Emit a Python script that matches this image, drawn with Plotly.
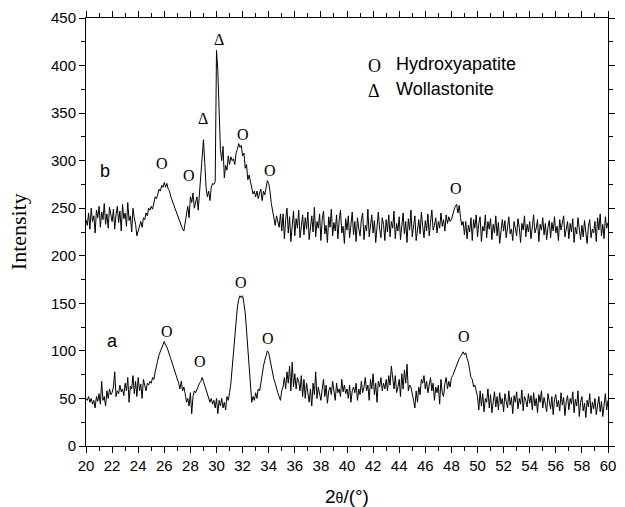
import plotly.graph_objects as go

# 2-theta grid (degrees), 0.1 deg step from 20 to 60
two_theta = [round(20 + i * 0.1, 1) for i in range(401)]

# Curve b (upper pattern)
intensity_b = [
    238, 232, 245, 228, 250, 236, 242, 224, 248, 240,
    252, 230, 246, 238, 255, 233, 244, 229, 251, 241,
    236, 249, 228, 243, 252, 235, 247, 226, 254, 239,
    245, 231, 256, 237, 242, 225, 250, 240, 233, 221,
    226, 232, 236, 230, 240, 238, 245, 242, 250, 248,
    252, 249, 258, 262, 260, 266, 270, 268, 274, 272,
    277, 272, 276, 270, 268, 262, 258, 255, 250, 246,
    242, 238, 236, 232, 228, 226, 235, 245, 252, 240,
    262, 256, 266, 250, 258, 262, 248, 268, 285, 300,
    322, 298, 272, 262, 268, 258, 272, 276, 275, 278,
    416, 395, 358, 312, 300, 315, 282, 295, 290, 305,
    296, 304, 300, 302, 296, 308, 312, 318, 314, 316,
    305, 308, 292, 296, 280, 285, 278, 270, 265, 268,
    262, 268, 260, 266, 270, 258, 268, 264, 270, 279,
    276, 268, 255, 248, 238, 232, 242, 236, 230, 244,
    226, 244, 218, 238, 250, 224, 241, 215, 236, 247,
    221, 239, 229, 248, 219, 235, 243, 222, 240, 228,
    246, 217, 233, 242, 225, 251, 220, 236, 229, 244,
    216, 238, 247, 223, 232, 214, 241, 230, 249, 221,
    235, 226, 243, 218, 237, 248, 224, 231, 213, 239,
    227, 242, 219, 233, 246, 222, 236, 215, 240, 229,
    221, 238, 245, 217, 232, 226, 249, 220, 234, 243,
    224, 237, 214, 231, 246, 228, 219, 240, 233, 216,
    238, 225, 243, 220, 236, 229, 247, 218, 234, 226,
    241, 217, 230, 245, 223, 236, 214, 239, 227, 248,
    220, 233, 242, 216, 229, 238, 223, 246, 231, 219,
    237, 226, 244, 221, 235, 248, 227, 232, 240, 224,
    236, 229, 245, 231, 238, 226, 243, 234, 241, 236,
    238, 244, 248, 252, 254, 245, 253, 240, 232, 236,
    222, 236, 218, 232, 225, 240, 216, 238, 229, 243,
    220, 234, 241, 215, 231, 226, 243, 219, 236, 228,
    239, 217, 233, 224, 242, 221, 235, 213, 230, 238,
    226, 237, 219, 232, 241, 223, 228, 216, 236, 229,
    221, 239, 230, 214, 234, 227, 242, 220, 233, 225,
    236, 218, 231, 243, 224, 229, 238, 215, 233, 227,
    240, 222, 234, 217, 230, 237, 219, 235, 226, 241,
    224, 231, 216, 238, 227, 233, 242, 220, 229, 236,
    218, 234, 225, 239, 214, 230, 223, 240, 228, 217,
    232, 220, 237, 226, 213, 231, 238, 219, 228, 224,
    236, 215, 240, 227, 244, 221, 233, 218, 241, 229,
    235,
]

# Curve a (lower pattern)
intensity_a = [
    50, 48, 52, 46, 50, 44, 48, 40, 52, 47,
    55, 44, 68, 48, 52, 42, 58, 50, 60, 54,
    56, 62, 78, 52, 58, 55, 64, 57, 60, 53,
    66, 58, 72, 46, 63, 60, 74, 55, 68, 52,
    72, 58, 65, 50, 70, 62, 58, 66, 64, 68,
    66, 72, 70, 78, 86, 90, 96, 100, 104, 108,
    110, 106, 104, 100, 96, 90, 86, 82, 78, 76,
    72, 66, 60, 68, 58, 62, 55, 46, 50, 42,
    56, 34, 52, 58, 56, 60, 62, 66, 68, 72,
    68, 64, 60, 56, 52, 46, 50, 44, 48, 40,
    50, 34, 48, 42, 50, 40, 46, 38, 52, 48,
    56, 66, 82, 100, 118, 134, 146, 154, 158, 156,
    158, 150, 140, 122, 100, 80, 60, 46, 52, 48,
    56, 50, 60, 58, 66, 76, 84, 90, 96, 100,
    98, 90, 84, 78, 70, 66, 60, 56, 52, 48,
    58, 62, 72, 60, 78, 66, 84, 58, 88, 62,
    76, 60, 72, 68, 58, 74, 52, 70, 50, 66,
    56, 46, 60, 42, 66, 54, 78, 50, 62, 56,
    48, 60, 70, 52, 64, 45, 58, 62, 54, 68,
    58, 48, 66, 56, 60, 52, 70, 57, 64, 55,
    60, 50, 64, 46, 58, 62, 56, 66, 48, 60,
    54, 68, 56, 62, 72, 58, 64, 48, 70, 60,
    76, 54, 66, 46, 68, 62, 72, 58, 66, 60,
    70, 58, 74, 64, 84, 68, 60, 74, 56, 62,
    70, 52, 76, 60, 80, 66, 86, 58, 64, 62,
    56, 48, 40, 58, 46, 62, 54, 70, 66, 74,
    60, 68, 56, 64, 72, 58, 66, 48, 62, 56,
    64, 44, 70, 56, 52, 66, 72, 60, 68, 62,
    72, 74, 78, 80, 86, 88, 92, 94, 96, 99,
    96, 98, 92, 88, 80, 72, 70, 62, 64, 56,
    52, 38, 58, 42, 55, 36, 50, 46, 60, 40,
    54, 35, 49, 57, 41, 52, 38, 56, 44, 50,
    36, 55, 47, 40, 58, 43, 51, 34, 53, 46,
    57, 39, 50, 44, 59, 37, 52, 48, 41, 55,
    45, 53, 38, 56, 42, 50, 35, 54, 46, 58,
    40, 51, 44, 36, 55, 47, 39, 52, 33, 49,
    54, 41, 48, 37, 56, 43, 51, 32, 47, 53,
    38, 50, 44, 57, 35, 49, 42, 58, 31, 46,
    52, 37, 45, 30, 48, 41, 55, 34, 46, 39,
    50, 33, 44, 52, 36, 47, 31, 42, 55, 38,
    48,
]

# Peak markers: (x, y, symbol)
marks_b_x = [25.8, 27.9, 29.0, 30.2, 32.0, 34.1, 48.35]
marks_b_y = [297, 284, 344, 427, 328, 290, 271]
marks_b_s = ["O", "O", "Δ", "Δ", "O", "O", "O"]
marks_a_x = [26.2, 28.75, 31.9, 33.95, 48.95]
marks_a_y = [120, 89, 172, 113, 115]
marks_a_s = ["O", "O", "O", "O", "O"]

legend_sym = ["O", "Δ"]
legend_txt = ["Hydroxyapatite", "Wollastonite"]
legend_y = [402, 375]

fig = go.Figure()
fig.add_trace(go.Scatter(x=two_theta, y=intensity_b, mode="lines",
                         line=dict(color="black", width=1), showlegend=False))
fig.add_trace(go.Scatter(x=two_theta, y=intensity_a, mode="lines",
                         line=dict(color="black", width=1), showlegend=False))

serif = "Liberation Serif, Times New Roman, serif"
sans = "Liberation Sans, Arial, sans-serif"

annots = []
for xs, ys, ss in [(marks_b_x, marks_b_y, marks_b_s), (marks_a_x, marks_a_y, marks_a_s)]:
    for x, y, s in zip(xs, ys, ss):
        annots.append(dict(x=x, y=y, text=s, showarrow=False, xref="x", yref="y",
                           font=dict(family=serif, size=16, color="black")))
for s, t, y in zip(legend_sym, legend_txt, legend_y):
    annots.append(dict(x=42.1, y=y - 2, text=s, showarrow=False, xref="x", yref="y",
                       font=dict(family=serif, size=18, color="black")))
    annots.append(dict(x=43.6, y=y, text=t, showarrow=False, xref="x", yref="y",
                       xanchor="left", font=dict(family=sans, size=18, color="black")))
annots.append(dict(x=21.45, y=289, text="b", showarrow=False, xref="x", yref="y",
                   font=dict(family=sans, size=18, color="black")))
annots.append(dict(x=22.0, y=110, text="a", showarrow=False, xref="x", yref="y",
                   font=dict(family=sans, size=18, color="black")))
# axis titles
annots.append(dict(x=-0.13, y=0.5, xref="paper", yref="paper", text="Intensity",
                   textangle=-90, showarrow=False, xanchor="center", yanchor="middle",
                   font=dict(family=serif, size=22, color="black")))
annots.append(dict(x=0.5, y=-0.118, xref="paper", yref="paper",
                   text="2<span style='font-size:14px'>θ</span>/(°)",
                   showarrow=False, xanchor="center", yanchor="middle",
                   font=dict(family=sans, size=19, color="black")))

fig.update_layout(
    width=625, height=507,
    margin=dict(l=86, r=9, t=15, b=61),
    plot_bgcolor="white", paper_bgcolor="white",
    annotations=annots,
    xaxis=dict(range=[20, 60], dtick=2, tick0=20, showgrid=False, zeroline=False,
               showline=True, linecolor="black", linewidth=1, mirror="ticks",
               ticks="outside", ticklen=6, tickcolor="black",
               minor=dict(dtick=1, ticks="outside", ticklen=4, tickcolor="black", showgrid=False),
               tickfont=dict(family=sans, size=15, color="black")),
    yaxis=dict(range=[0, 450], dtick=50, showgrid=False, zeroline=False,
               showline=True, linecolor="black", linewidth=1, mirror="ticks",
               ticks="outside", ticklen=6, tickcolor="black",
               minor=dict(dtick=25, ticks="outside", ticklen=4, tickcolor="black", showgrid=False),
               tickfont=dict(family=sans, size=15, color="black")),
)

fig.write_html("out.html")
